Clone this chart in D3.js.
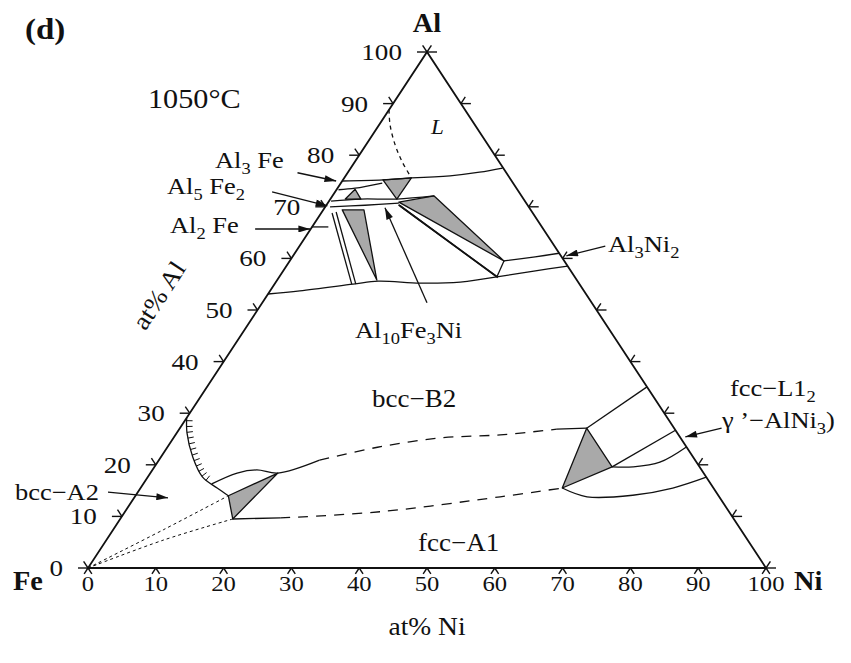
<!DOCTYPE html>
<html>
<head>
<meta charset="utf-8">
<script src="https://cdn.jsdelivr.net/npm/d3@7"></script>
<style>
  body { margin: 0; background: #fff; }
  text { font-family: "Liberation Serif", "Times New Roman", serif; fill: #111; white-space: pre; }
</style>
</head>
<body>
<div id="chart"></div>
<script>
// every composition is [at% Ni, at% Al], Fe is the balance
const tickValues = [0, 10, 20, 30, 40, 50, 60, 70, 80, 90, 100]

// Al-rich corner
const liquidusDashed = [[0, 88.8], [1.6, 85.9], [4.3, 82.0], [7.0, 78.7], [9.9, 75.6]]
const liquidusRight = [[9.9, 75.6], [15.4, 76.0], [19.4, 76.7], [22.4, 77.5]]
const al3feUpper = [[0, 75.0], [5.9, 75.2], [9.9, 75.6]]
const al3feLower = [[0.3, 73.3], [2.6, 73.6], [6.1, 74.6]]
const al5fe2Upper = [[0.3, 71.1], [4.5, 71.5], [9.8, 71.5], [15.0, 72.1]]
const al5fe2Lower = [[0.7, 70.0], [5.7, 70.3], [10.5, 70.7]]
const al2feLine = [[0, 66.1], [2.4, 66.1]]
const tieLeftA = [[1.6, 68.8], [11.4, 55.0]]
const tieLeftB = [[2.1, 69.0], [12.0, 55.0]]
const ternaryBandA = [[10.6, 70.4], [32.0, 56.5]]
const ternaryBandB = [[10.9, 70.2], [32.3, 56.3]]
const bandEnd = [[32.1, 56.4], [31.6, 59.5]]
const al3ni2Upper = [[31.6, 59.5], [35.8, 60.3], [39.0, 61.0]]
const al3ni2Lower = [[32.1, 56.4], [37.2, 57.6], [41.5, 58.5]]
const b2Upper = [[0, 53.1], [4.4, 53.7], [11.6, 55.0], [15.0, 55.6], [21.4, 55.2], [27.2, 55.4], [32.1, 56.4]]

// three-phase triangles
const triAl3Fe = [[5.9, 75.2], [9.9, 75.6], [9.8, 71.5]]
const triAl5Fe2 = [[2.2, 71.5], [2.7, 73.4], [4.5, 71.5]]
const triMid = [[2.8, 69.4], [6.0, 69.4], [14.7, 55.8]]
const triBig = [[10.4, 70.9], [15.0, 72.1], [31.6, 59.5]]
const triA2 = [[13.7, 14.0], [18.8, 18.4], [16.6, 9.5]]
const triL12 = [[60.0, 27.1], [62.2, 15.5], [67.5, 19.6]]

// Fe / Ni side
const a2Boundary = [[0, 29.1], [1.5, 26.2], [4.7, 21.5], [8.1, 17.6], [11.3, 15.5], [13.7, 14.0]]
const b2A2Upper = [[10.1, 16.3], [12.8, 18.4], [15.4, 19.0], [18.8, 18.4], [23.7, 20.9]]
const b2Dashed = [[23.7, 20.9], [31.0, 23.4], [39.3, 25.2], [47.9, 25.8], [55.7, 26.9]]
const l12Upper = [[55.7, 26.9], [60.0, 27.1]]
const a1Lower = [[16.6, 9.5], [23.5, 9.7]]
const a1Dashed = [[23.5, 9.7], [37.6, 10.9], [53.9, 13.8], [62.2, 15.5]]
const dottedUpper = [[0, 0], [7.4, 7.4], [13.7, 14.0]]
const dottedLower = [[0, 0], [8.4, 5.4], [16.6, 9.5]]
const l12TieTop = [[60.0, 27.1], [64.9, 35.1]]
const l12TieMid = [[67.5, 19.6], [73.3, 26.7]]
const l12Curve = [[67.5, 19.6], [70.6, 19.6], [74.1, 20.5], [76.5, 23.4]]
const a1Curve = [[62.2, 15.5], [66.7, 13.8], [73.3, 14.1], [78.5, 15.5], [82.4, 17.6]]

// label arrows: [from, to]
const arrowAl3Fe = [[-7.4, 76.6], [-0.9, 75.0]]
const arrowAl5Fe2 = [[-9.3, 72.9], [0.2, 70.2]]
const arrowAl2Fe = [[-8.2, 65.7], [-0.1, 65.7]]
const arrowAl10 = [[24.3, 51.4], [8.9, 69.8]]
const arrowAl3Ni2 = [[45.1, 62.4], [40.3, 60.5]]
const arrowGamma = [[79.9, 27.1], [75.4, 25.4]]
const arrowA2 = [[-4.4, 14.7], [5.0, 13.6]]

const width = 851, height = 663
const fe = [88, 568], ni = [766, 568], alTop = 52
const stretch = 1.15

const sx = d3.scaleLinear().domain([0, 100]).range([0, ni[0] - fe[0]])
const sy = d3.scaleLinear().domain([0, 100]).range([fe[1], alTop])
const proj = d => [fe[0] + sx(d[0]) + sx(d[1]) / 2, sy(d[1])]

const svg = d3.select('#chart').append('svg')
  .attr('width', width)
  .attr('height', height)

svg.append('rect').attr('width', width).attr('height', height).attr('fill', '#fff')

svg.append('defs').append('marker')
  .attr('id', 'head')
  .attr('viewBox', '0 0 10 6')
  .attr('refX', 10).attr('refY', 3)
  .attr('markerWidth', 13).attr('markerHeight', 7)
  .attr('markerUnits', 'userSpaceOnUse')
  .attr('orient', 'auto')
  .append('path').attr('d', 'M0,0L10,3L0,6Z').attr('fill', '#111')

let straight = d3.line().x(d => proj(d)[0]).y(d => proj(d)[1])
let curved = d3.line().x(d => proj(d)[0]).y(d => proj(d)[1]).curve(d3.curveCatmullRom.alpha(0.5))

// grey tie triangles first, lines on top
let tris = svg.append('g')
tris.selectAll('path')
  .data([triAl3Fe, triAl5Fe2, triMid, triBig, triA2, triL12])
  .enter().append('path')
  .attr('d', d => straight(d) + 'Z')
  .attr('fill', '#a9a9a9')
  .attr('stroke', '#111')
  .attr('stroke-width', 1.3)
  .attr('stroke-linejoin', 'round')

let drawLine = (pts, opts = {}) => svg.append('path')
  .datum(pts)
  .attr('d', opts.curve ? curved : straight)
  .attr('fill', 'none')
  .attr('stroke', '#111')
  .attr('stroke-width', opts.w || 1.3)
  .attr('stroke-dasharray', opts.dash || null)

drawLine(liquidusDashed, { curve: true, dash: '4,4' })
drawLine(liquidusRight, { curve: true })
drawLine(al3feUpper, { curve: true })
drawLine(al3feLower, { curve: true })
drawLine(al5fe2Upper, { curve: true })
drawLine(al5fe2Lower, { curve: true })
drawLine(al2feLine)
drawLine(tieLeftA)
drawLine(tieLeftB)
drawLine(ternaryBandA, { w: 1.6 })
drawLine(ternaryBandB, { w: 1.6 })
drawLine(bandEnd)
drawLine(al3ni2Upper, { curve: true })
drawLine(al3ni2Lower, { curve: true })
drawLine(b2Upper, { curve: true })

let a2Path = drawLine(a2Boundary, { curve: true })
drawLine(b2A2Upper, { curve: true })
drawLine(b2Dashed, { curve: true, dash: '10,8' })
drawLine(l12Upper)
drawLine(a1Lower)
drawLine(a1Dashed, { curve: true, dash: '10,8' })
drawLine(dottedUpper, { curve: true, dash: '3,3', w: 1 })
drawLine(dottedLower, { curve: true, dash: '3,3', w: 1 })
drawLine(l12TieTop)
drawLine(l12TieMid)
drawLine(l12Curve, { curve: true })
drawLine(a1Curve, { curve: true })

// hatching on the bcc A2/B2 ordering line
let node = a2Path.node()
let total = node.getTotalLength()
d3.range(12).forEach(i => {
  let l = total * (0.03 + i * 0.062)
  let p = node.getPointAtLength(l)
  let q = node.getPointAtLength(Math.min(total, l + 1))
  let tx = q.x - p.x, ty = q.y - p.y, len = Math.hypot(tx, ty) || 1
  svg.append('line')
    .attr('x1', p.x).attr('y1', p.y)
    .attr('x2', p.x + ty / len * 6).attr('y2', p.y - tx / len * 6)
    .attr('stroke', '#111').attr('stroke-width', 1)
})

// arrows
let arrows = [arrowAl3Fe, arrowAl5Fe2, arrowAl2Fe, arrowAl10, arrowAl3Ni2, arrowGamma, arrowA2]
svg.append('g').selectAll('path').data(arrows).enter().append('path')
  .attr('d', straight)
  .attr('stroke', '#111')
  .attr('stroke-width', 1.3)
  .attr('marker-end', 'url(#head)')

// triangle frame
svg.append('path')
  .datum([[0, 0], [100, 0], [0, 100]])
  .attr('d', d => straight(d) + 'Z')
  .attr('fill', 'none')
  .attr('stroke', '#111')
  .attr('stroke-width', 1.8)

// ticks run along the grid directions, outward
let tlSide = 10, tlDiag = 8, tlBottom = 7
let edgeLen = Math.hypot(sx(50), fe[1] - alTop)
let dirL = [sx(50) / edgeLen, -(fe[1] - alTop) / edgeLen]
let tickSegs = []
tickValues.forEach(v => {
  let b = proj([v, 0]), l = proj([0, v]), r = proj([100 - v, v])
  tickSegs.push([b, [b[0] - dirL[0] * tlBottom, b[1] - dirL[1] * tlBottom]])
  tickSegs.push([b, [b[0] + dirL[0] * tlBottom, b[1] - dirL[1] * tlBottom]])
  tickSegs.push([l, [l[0] - tlSide, l[1]]])
  tickSegs.push([l, [l[0] - dirL[0] * tlDiag, l[1] + dirL[1] * tlDiag]])
  tickSegs.push([r, [r[0] + tlSide, r[1]]])
  tickSegs.push([r, [r[0] + dirL[0] * tlDiag, r[1] + dirL[1] * tlDiag]])
})
svg.append('g').selectAll('line').data(tickSegs).enter().append('line')
  .attr('x1', d => d[0][0]).attr('y1', d => d[0][1])
  .attr('x2', d => d[1][0]).attr('y2', d => d[1][1])
  .attr('stroke', '#111').attr('stroke-width', 1.4)

// text helper, the source type is a bit wide
function label(x, y, parts, opt = {}) {
  let size = opt.size || 24
  let t = svg.append('text')
    .attr('transform', `translate(${x},${y})` + (opt.rotate ? ` rotate(${opt.rotate})` : '') + ` scale(${opt.sx || stretch},1)`)
    .attr('font-size', size)
    .attr('text-anchor', opt.anchor || 'start')
    .attr('font-weight', opt.bold ? 'bold' : null)
    .attr('font-style', opt.italic ? 'italic' : null)
  let drop = size * 0.28, shift = 0
  parts.forEach(p => {
    let sub = Array.isArray(p)
    let s = sub ? p[0] : p
    let dy = (sub ? drop : 0) - shift
    shift = sub ? drop : 0
    t.append('tspan').text(s).attr('dy', dy).attr('font-size', sub ? size * 0.7 : size)
  })
  return t
}

tickValues.forEach(v => {
  let b = proj([v, 0]), l = proj([0, v])
  label(b[0], 591, [String(v)], { size: 22, anchor: 'middle', sx: 1.12 })
  label(l[0] - 25, l[1] + 8, [String(v)], { size: 23, anchor: 'end', sx: 1.18 })
})

label(25, 39, ['(d)'], { size: 30, bold: true, sx: 1.1 })
label(427, 32, ['Al'], { size: 27, bold: true, anchor: 'middle', sx: 1.05 })
label(13, 590, ['Fe'], { size: 27, bold: true, sx: 1.05 })
label(794, 590, ['Ni'], { size: 27, bold: true, sx: 1.05 })
label(427, 635, ['at% Ni'], { size: 25, anchor: 'middle', sx: 1.1 })
label(166, 300, ['at% Al'], { size: 25, anchor: 'middle', rotate: -56.7, sx: 1.1 })
label(148, 108, ['1050°C'], { size: 27, sx: 1.12 })
label(431, 134, ['L'], { size: 22, italic: true, sx: 1.05 })

label(215, 168, ['Al', ['3'], ' Fe'], { size: 23 })
label(167, 194, ['Al', ['5'], ' Fe', ['2']], { size: 23 })
label(170, 233, ['Al', ['2'], ' Fe'], { size: 23 })
label(608, 252, ['Al', ['3'], 'Ni', ['2']], { size: 23 })
label(355, 338, ['Al', ['10'], 'Fe', ['3'], 'Ni'], { size: 23 })
label(372, 407, ['bcc\u2212B2'], { size: 25, sx: 1.08 })
label(730, 396, ['fcc\u2212L1', ['2']], { size: 23 })
label(722, 428, ['\u03b3 \u2019\u2212AlNi', ['3'], ')'], { size: 23 })
label(15, 500, ['bcc\u2212A2'], { size: 23 })
label(418, 551, ['fcc\u2212A1'], { size: 25, sx: 1.08 })
</script>
</body>
</html>
